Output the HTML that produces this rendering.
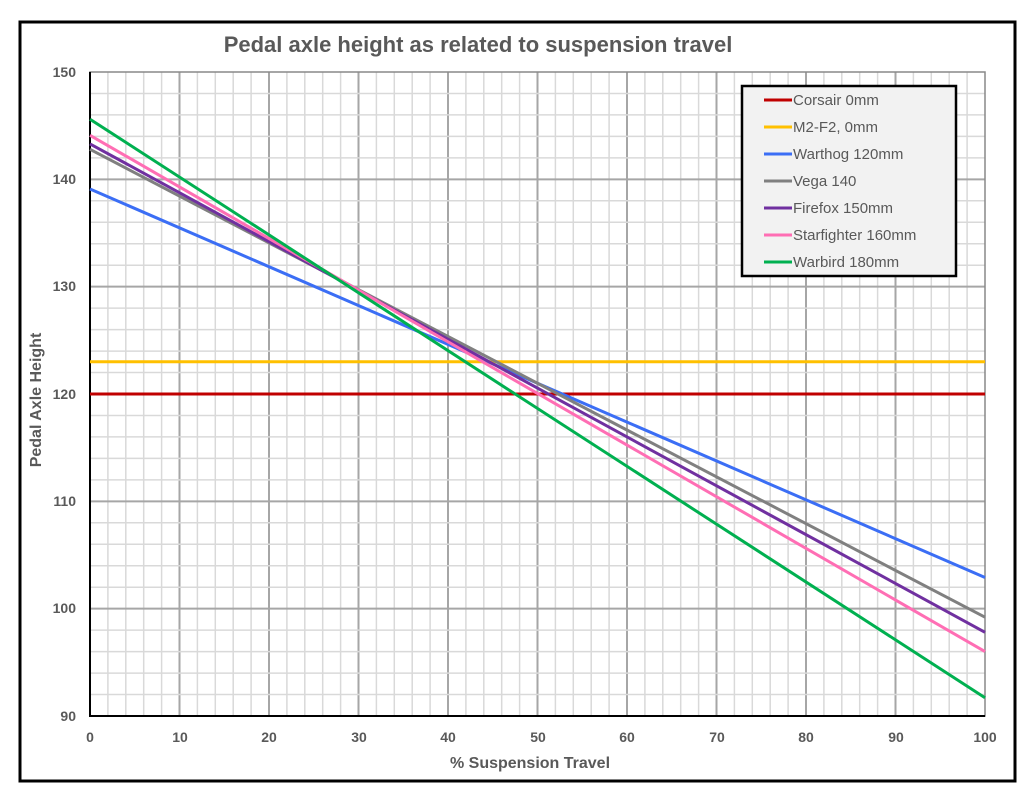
<!DOCTYPE html>
<html><head><meta charset="utf-8"><style>
body{margin:0;background:#fff;}
svg text{font-family:"Liberation Sans",sans-serif;fill:#595959;font-weight:bold;}
svg text.n{font-weight:normal;}
</style></head><body>
<svg id="s" width="1036" height="800" xmlns="http://www.w3.org/2000/svg">
<rect x="0" y="0" width="1036" height="800" fill="#fff"/>
<rect x="20" y="22" width="995" height="759" fill="#fff" stroke="#000" stroke-width="3"/>
<g id="grid"></g>
<rect x="90" y="72" width="895" height="644" fill="none" stroke="#888" stroke-width="1.5"/>
<line x1="90" y1="72" x2="90" y2="717" stroke="#000" stroke-width="2"/>
<line x1="89" y1="716" x2="985" y2="716" stroke="#000" stroke-width="2"/>
<g stroke-width="3" fill="none">
<line x1="90" y1="394" x2="985" y2="394" stroke="#c00000"/>
<line x1="90" y1="361.8" x2="985" y2="361.8" stroke="#ffc000"/>
<line x1="90" y1="189" x2="985" y2="577.5" stroke="#3b6ef5"/>
<line x1="90" y1="149.3" x2="985" y2="617.2" stroke="#808080"/>
<line x1="90" y1="143.9" x2="985" y2="632.3" stroke="#7030a0"/>
<line x1="90" y1="135.3" x2="985" y2="651.6" stroke="#ff6eb4"/>
<line x1="90" y1="119.2" x2="985" y2="697.7" stroke="#00b050"/>
</g>
<text x="478" y="52" font-size="22" text-anchor="middle">Pedal axle height as related to suspension travel</text>
<g font-size="14" text-anchor="end">
<text x="76" y="77">150</text><text x="76" y="184">140</text><text x="76" y="291">130</text>
<text x="76" y="399">120</text><text x="76" y="506">110</text><text x="76" y="613">100</text><text x="76" y="721">90</text>
</g>
<g font-size="14" text-anchor="middle">
<text x="90" y="742">0</text><text x="180" y="742">10</text><text x="269" y="742">20</text><text x="359" y="742">30</text>
<text x="448" y="742">40</text><text x="538" y="742">50</text><text x="627" y="742">60</text><text x="717" y="742">70</text>
<text x="806" y="742">80</text><text x="896" y="742">90</text><text x="985" y="742">100</text>
</g>
<text x="530" y="768" font-size="16" text-anchor="middle">% Suspension Travel</text>
<text transform="translate(41,400) rotate(-90)" font-size="16" text-anchor="middle">Pedal Axle Height</text>
<rect x="742" y="86" width="214" height="190" fill="#f2f2f2" stroke="#000" stroke-width="2.5"/>
<g stroke-width="3">
<line x1="764" y1="100" x2="792" y2="100" stroke="#c00000"/>
<line x1="764" y1="127" x2="792" y2="127" stroke="#ffc000"/>
<line x1="764" y1="154" x2="792" y2="154" stroke="#3b6ef5"/>
<line x1="764" y1="181" x2="792" y2="181" stroke="#808080"/>
<line x1="764" y1="208" x2="792" y2="208" stroke="#7030a0"/>
<line x1="764" y1="235" x2="792" y2="235" stroke="#ff6eb4"/>
<line x1="764" y1="262" x2="792" y2="262" stroke="#00b050"/>
</g>
<g font-size="15">
<text class="n" x="793" y="105">Corsair 0mm</text>
<text class="n" x="793" y="132">M2-F2, 0mm</text>
<text class="n" x="793" y="159">Warthog 120mm</text>
<text class="n" x="793" y="186">Vega 140</text>
<text class="n" x="793" y="213">Firefox 150mm</text>
<text class="n" x="793" y="240">Starfighter 160mm</text>
<text class="n" x="793" y="267">Warbird 180mm</text>
</g>
</svg>
<script>
var g=document.getElementById('grid'),h='';
for(var k=1;k<50;k++){var x=90+17.9*k;h+='<line x1="'+x+'" y1="72" x2="'+x+'" y2="716" stroke="'+(k%5?'#d9d9d9':'#a6a6a6')+'" stroke-width="'+(k%5?1.5:2)+'"/>';}
for(var k=1;k<30;k++){var y=72+644/30*k;h+='<line x1="90" y1="'+y+'" x2="985" y2="'+y+'" stroke="'+(k%5?'#d9d9d9':'#a6a6a6')+'" stroke-width="'+(k%5?1.5:2)+'"/>';}
g.innerHTML=h;
</script>
</body></html>
